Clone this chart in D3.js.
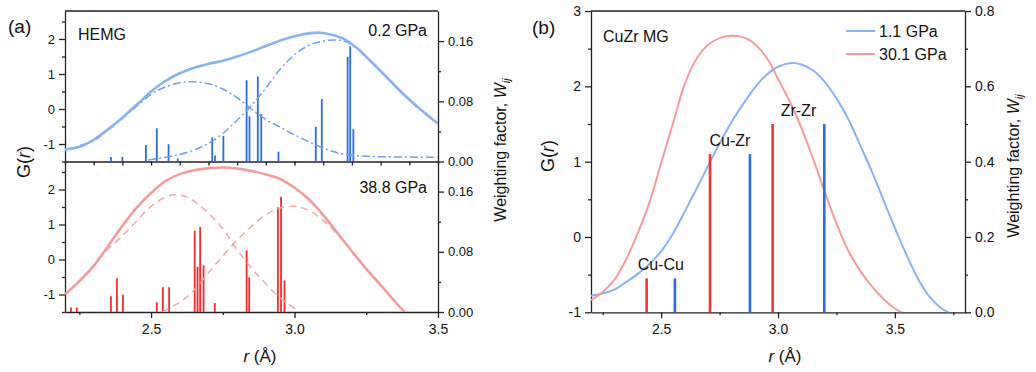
<!DOCTYPE html>
<html>
<head>
<meta charset="utf-8">
<script src="https://cdn.jsdelivr.net/npm/d3@7"></script>
<style>
  body { margin: 0; background: #fff; }
  svg { display: block; font-family: "Liberation Sans", Arial, sans-serif; }
  .axis path, .axis line { stroke: #222; stroke-width: 1.3; }
  .axis text { fill: #111; font-size: 14px; font-family: "Liberation Sans", Arial, sans-serif; }
  .label { fill: #111; }
</style>
</head>
<body>
<div id="chart"></div>
<script>
/////////////////////////////////////////////////////
/////////////////////// Data ////////////////////////
/////////////////////////////////////////////////////

// Panel (a), HEMG at 0.2 GPa : [r, G(r)]
const hemg_low_total = [[2.2,-1.16],[2.25,-1.08],[2.3,-0.88],[2.35,-0.58],[2.4,-0.25],[2.45,0.12],[2.5,0.5],[2.55,0.8],[2.6,1.02],[2.65,1.18],[2.7,1.29],[2.75,1.38],[2.8,1.5],[2.85,1.64],[2.9,1.8],[2.95,1.96],[3.0,2.08],[3.05,2.16],[3.09,2.18],[3.13,2.12],[3.18,1.97],[3.22,1.72],[3.27,1.33],[3.32,0.92],[3.37,0.5],[3.43,0.05],[3.5,-0.42]];
const hemg_low_peak1 = [[2.2,-1.17],[2.3,-0.9],[2.35,-0.6],[2.4,-0.27],[2.45,0.08],[2.5,0.42],[2.55,0.63],[2.6,0.75],[2.64,0.78],[2.7,0.72],[2.75,0.57],[2.8,0.32],[2.85,0.0],[2.9,-0.3],[2.95,-0.52],[3.0,-0.74],[3.06,-0.97],[3.12,-1.18],[3.18,-1.3],[3.25,-1.35],[3.35,-1.37],[3.5,-1.38]];
const hemg_low_peak2 = [[2.49,-1.46],[2.55,-1.38],[2.6,-1.3],[2.65,-1.17],[2.7,-0.98],[2.75,-0.7],[2.8,-0.32],[2.85,0.1],[2.9,0.6],[2.95,1.14],[3.0,1.55],[3.05,1.82],[3.1,1.94],[3.14,1.97],[3.18,1.92],[3.22,1.72],[3.27,1.33],[3.32,0.92],[3.37,0.5],[3.43,0.05],[3.5,-0.42]];
// weighting factors : [r, W]
const hemg_low_bars = [[2.36,0.006],[2.40,0.006],[2.482,0.022],[2.52,0.044],[2.561,0.023],[2.593,0.004],[2.713,0.032],[2.723,0.008],[2.752,0.034],[2.833,0.108],[2.843,0.06],[2.872,0.113],[2.884,0.063],[2.944,0.013],[3.074,0.046],[3.095,0.083],[3.185,0.139],[3.194,0.153],[3.205,0.043]];

// Panel (a), HEMG at 38.8 GPa
const hemg_high_total = [[2.2,-1.0],[2.25,-0.62],[2.3,-0.18],[2.35,0.38],[2.4,0.96],[2.45,1.48],[2.5,1.9],[2.55,2.24],[2.6,2.44],[2.65,2.55],[2.7,2.61],[2.75,2.63],[2.8,2.6],[2.85,2.53],[2.9,2.43],[2.95,2.3],[3.0,2.05],[3.05,1.72],[3.1,1.27],[3.15,0.75],[3.2,0.23],[3.25,-0.27],[3.3,-0.73],[3.35,-1.2],[3.39,-1.55]];
const hemg_high_peak1 = [[2.2,-1.0],[2.25,-0.62],[2.3,-0.18],[2.35,0.3],[2.4,0.68],[2.45,1.1],[2.5,1.52],[2.55,1.78],[2.58,1.85],[2.62,1.8],[2.66,1.6],[2.7,1.32],[2.75,0.88],[2.8,0.28],[2.85,-0.25],[2.88,-0.52],[2.95,-1.1],[3.02,-1.5]];
const hemg_high_peak2 = [[2.54,-1.5],[2.6,-1.22],[2.625,-1.07],[2.66,-0.78],[2.7,-0.38],[2.75,0.1],[2.8,0.55],[2.85,0.95],[2.9,1.28],[2.95,1.47],[3.0,1.52],[3.05,1.4],[3.1,1.11],[3.15,0.72],[3.2,0.24],[3.25,-0.27],[3.3,-0.73],[3.35,-1.2],[3.39,-1.55]];
const hemg_high_bars = [[2.221,0.006],[2.241,0.006],[2.36,0.021],[2.381,0.045],[2.402,0.023],[2.52,0.013],[2.541,0.033],[2.563,0.033],[2.652,0.108],[2.662,0.06],[2.671,0.113],[2.683,0.062],[2.722,0.012],[2.833,0.082],[2.842,0.046],[2.942,0.139],[2.953,0.153],[2.965,0.042]];

// Panel (b), CuZr MG
const cuzr_low  = [[2.2,-0.78],[2.25,-0.75],[2.3,-0.7],[2.35,-0.6],[2.4,-0.49],[2.45,-0.36],[2.5,-0.19],[2.55,0.04],[2.6,0.33],[2.65,0.63],[2.7,0.94],[2.75,1.24],[2.8,1.52],[2.85,1.76],[2.9,1.98],[2.95,2.15],[3.0,2.26],[3.06,2.31],[3.1,2.29],[3.15,2.21],[3.2,2.06],[3.25,1.84],[3.3,1.57],[3.35,1.23],[3.4,0.88],[3.45,0.5],[3.5,0.12],[3.55,-0.24],[3.6,-0.56],[3.65,-0.8],[3.7,-0.95],[3.73,-1.0]];
const cuzr_high = [[2.2,-0.84],[2.25,-0.73],[2.3,-0.57],[2.35,-0.3],[2.4,0.05],[2.45,0.46],[2.5,0.98],[2.55,1.5],[2.6,2.02],[2.65,2.36],[2.7,2.55],[2.75,2.64],[2.8,2.67],[2.84,2.66],[2.88,2.61],[2.92,2.5],[2.96,2.34],[3.0,2.1],[3.05,1.8],[3.1,1.45],[3.15,1.04],[3.2,0.6],[3.25,0.18],[3.3,-0.18],[3.35,-0.44],[3.4,-0.65],[3.45,-0.82],[3.5,-0.95],[3.53,-1.0]];
const pair_names     = ["Cu-Cu", "Cu-Zr", "Zr-Zr"];
const pair_weights   = [0.09, 0.42, 0.5];
const pair_r_low     = [2.559, 2.880, 3.198];
const pair_r_high    = [2.438, 2.709, 2.977];
const legend_labels  = ["1.1 GPa", "30.1 GPa"];

// Tick labels
const r_ticks       = [2.5, 3.0, 3.5];
const r_minor_a     = d3.range(22, 36).map(d => d / 10);
const r_minor_a_bot = [2.25, 2.75, 3.25];
const g_ticks_a     = [-1, 0, 1, 2];
const g_minor_a     = [-1.5, -0.5, 0.5, 1.5, 2.5];
const w_ticks_a     = [0, 0.08, 0.16];
const w_minor_a     = [0.04, 0.12];
const r_minor_b     = [2.25, 2.75, 3.25, 3.75];
const g_ticks_b     = [-1, 0, 1, 2, 3];
const g_minor_b     = [-0.5, 0.5, 1.5, 2.5];
const w_ticks_b     = [0, 0.2, 0.4, 0.6, 0.8];
const w_minor_b     = [0.1, 0.3, 0.5, 0.7];

/////////////////////////////////////////////////////
///////////////////// Constants /////////////////////
/////////////////////////////////////////////////////

const width  = 1036;
const height = 372;

const blue_curve = '#8ab2ee';
const blue_fit   = '#6f9fe9';
const blue_bar   = '#2a6ddc';
const red_curve  = '#f39c9c';
const red_fit    = '#f4a6a6';
const red_bar    = '#f52a2a';
const axis_color = '#222';

// panel boxes
const pa = { left: 65, right: 438, top: 11, mid: 161.5, bottom: 312 };
const pb = { left: 591, right: 965, top: 11, bottom: 312.3 };

const svg = d3.select("#chart").append("svg")
  .attr("width", width)
  .attr("height", height);

const defs = svg.append("defs");
const addClip = (id, x0, y0, x1, y1) => defs.append("clipPath").attr("id", id)
  .append("rect").attr("x", x0).attr("y", y0).attr("width", x1 - x0).attr("height", y1 - y0);

addClip("clip_top", pa.left, pa.top, pa.right, pa.mid);
addClip("clip_bot", pa.left, pa.mid, pa.right, pa.bottom);
addClip("clip_b", pb.left, pb.top, pb.right, pb.bottom);

/////////////////////////////////////////////////////
///////////////////// Scales ////////////////////////
/////////////////////////////////////////////////////

const x_a     = d3.scaleLinear().domain([2.2, 3.5]).range([pa.left, pa.right]);
const g_top   = d3.scaleLinear().domain([-1.5, 2.8]).range([pa.mid, pa.top]);
const w_top   = d3.scaleLinear().domain([0, 0.2]).range([pa.mid, pa.top]);
const g_bot   = d3.scaleLinear().domain([-1.5, 2.8]).range([pa.bottom, pa.mid]);
const w_bot   = d3.scaleLinear().domain([0, 0.2]).range([pa.bottom, pa.mid]);
const x_b     = d3.scaleLinear().domain([2.2, 3.8]).range([pb.left, pb.right]);
const g_b     = d3.scaleLinear().domain([-1, 3]).range([pb.bottom, pb.top]);
const w_b     = d3.scaleLinear().domain([0, 0.8]).range([pb.bottom, pb.top]);

/////////////////////////////////////////////////////
///////////////////// Axes //////////////////////////
/////////////////////////////////////////////////////

// draws a major axis (with labels) and a minor axis (without)
function drawAxis(axisFn, scale, pos, major, minor, fmt, fontSize, minorSize) {
  const g = svg.append("g").attr("class", "axis").attr("transform", pos);
  g.call(axisFn(scale).tickValues(major).tickFormat(fmt).tickSize(6).tickPadding(4).tickSizeOuter(0));
  g.selectAll("text").style("font-size", fontSize + "px");
  const m = svg.append("g").attr("class", "axis").attr("transform", pos);
  m.call(axisFn(scale).tickValues(minor).tickFormat("").tickSize(minorSize || 3).tickSizeOuter(0));
  m.select(".domain").remove();
  return g;
}

const fmt_int = d => String(d);
const fmt_1   = d3.format(".1f");
const fmt_2   = d3.format(".2f");

// top panel
drawAxis(d3.axisLeft, g_top, `translate(${pa.left},0)`, g_ticks_a, g_minor_a, fmt_int, 13);
drawAxis(d3.axisRight, w_top, `translate(${pa.right},0)`, w_ticks_a, w_minor_a, fmt_2, 13);
drawAxis(d3.axisBottom, x_a, `translate(0,${pa.mid})`, [], r_minor_a, "", 13, 4);

// bottom panel
drawAxis(d3.axisLeft, g_bot, `translate(${pa.left},0)`, g_ticks_a, g_minor_a, fmt_int, 13);
drawAxis(d3.axisRight, w_bot, `translate(${pa.right},0)`, w_ticks_a, w_minor_a, fmt_2, 13);
drawAxis(d3.axisBottom, x_a, `translate(0,${pa.bottom})`, r_ticks, r_minor_a_bot, fmt_1, 14)
  .selectAll("text").attr("y", 12);

// panel (b)
drawAxis(d3.axisLeft, g_b, `translate(${pb.left},0)`, g_ticks_b, g_minor_b, fmt_int, 14);
drawAxis(d3.axisRight, w_b, `translate(${pb.right},0)`, w_ticks_b, w_minor_b, fmt_1, 14);
drawAxis(d3.axisBottom, x_b, `translate(0,${pb.bottom})`, r_ticks, r_minor_b, fmt_1, 14)
  .selectAll("text").attr("y", 12);

// top borders
svg.append("line").attr("x1", pa.left).attr("x2", pa.right).attr("y1", pa.top).attr("y2", pa.top)
  .attr("stroke", axis_color).attr("stroke-width", 1.3);
svg.append("line").attr("x1", pb.left).attr("x2", pb.right).attr("y1", pb.top).attr("y2", pb.top)
  .attr("stroke", axis_color).attr("stroke-width", 1.3);

/////////////////////////////////////////////////////
///////////////////// Marks /////////////////////////
/////////////////////////////////////////////////////

function drawCurve(data, x, y, clip, color, widthPx, dash) {
  svg.append("path")
    .datum(data)
    .attr("clip-path", `url(#${clip})`)
    .attr("fill", "none")
    .attr("stroke", color)
    .attr("stroke-width", widthPx)
    .attr("stroke-dasharray", dash || null)
    .attr("d", d3.line().x(d => x(d[0])).y(d => y(d[1])).curve(d3.curveCatmullRom.alpha(0.5)));
}

function drawBars(data, x, w, color, widthPx) {
  svg.append("g").selectAll("line")
    .data(data)
    .enter().append("line")
    .attr("x1", d => x(d[0])).attr("x2", d => x(d[0]))
    .attr("y1", w(0)).attr("y2", d => w(d[1]))
    .attr("stroke", color)
    .attr("stroke-width", widthPx);
}

// top panel (0.2 GPa)
drawBars(hemg_low_bars, x_a, w_top, blue_bar, 1.8);
drawCurve(hemg_low_peak1, x_a, g_top, "clip_top", blue_fit, 1.5, "8,3,2,3");
drawCurve(hemg_low_peak2, x_a, g_top, "clip_top", blue_fit, 1.5, "8,3,2,3");
drawCurve(hemg_low_total, x_a, g_top, "clip_top", blue_curve, 2.6);

// bottom panel (38.8 GPa)
drawBars(hemg_high_bars, x_a, w_bot, red_bar, 1.8);
drawCurve(hemg_high_peak1, x_a, g_bot, "clip_bot", red_fit, 1.5, "7,5");
drawCurve(hemg_high_peak2, x_a, g_bot, "clip_bot", red_fit, 1.5, "7,5");
drawCurve(hemg_high_total, x_a, g_bot, "clip_bot", red_curve, 2.6);

// panel (b)
drawCurve(cuzr_low, x_b, g_b, "clip_b", blue_curve, 2);
drawCurve(cuzr_high, x_b, g_b, "clip_b", red_curve, 2);
drawBars(pair_r_high.map((r, i) => [r, pair_weights[i]]), x_b, w_b, '#f03434', 2.6);
drawBars(pair_r_low.map((r, i) => [r, pair_weights[i]]), x_b, w_b, '#2a6ddc', 2.6);

// pair labels, centred above each pair of sticks
svg.append("g").selectAll("text")
  .data(pair_names)
  .enter().append("text")
  .attr("class", "label")
  .attr("x", (d, i) => (x_b(pair_r_low[i]) + x_b(pair_r_high[i])) / 2)
  .attr("y", (d, i) => w_b(pair_weights[i]) - 8)
  .attr("text-anchor", "middle")
  .style("font-size", "16px")
  .text(d => d);

/////////////////////////////////////////////////////
///////////////////// Texts /////////////////////////
/////////////////////////////////////////////////////

const addText = (x, y, txt, size, anchor) => svg.append("text")
  .attr("class", "label").attr("x", x).attr("y", y)
  .attr("text-anchor", anchor || "start")
  .style("font-size", size + "px")
  .text(txt);

addText(8, 33, "(a)", 19);
addText(78, 40, "HEMG", 16);
addText(427, 36, "0.2 GPa", 16, "end");
addText(427, 193, "38.8 GPa", 16, "end");
addText(532, 34, "(b)", 19);
addText(603, 42, "CuZr MG", 16);

// G(r) labels
function gLabel(x, y) {
  const t = svg.append("text").attr("class", "label")
    .attr("transform", `translate(${x},${y}) rotate(-90)`)
    .attr("text-anchor", "middle").style("font-size", "18px");
  t.append("tspan").text("G(");
  t.append("tspan").style("font-style", "italic").text("r");
  t.append("tspan").text(")");
}
gLabel(30, 162);
gLabel(554, 156);

// r axis labels
function rLabel(x, y) {
  const t = svg.append("text").attr("class", "label")
    .attr("x", x).attr("y", y)
    .attr("text-anchor", "middle").style("font-size", "17px");
  t.append("tspan").style("font-style", "italic").text("r");
  t.append("tspan").text(" (Å)");
}
rLabel(260, 362);
rLabel(785, 362);

// weighting factor labels
function wLabel(x, y) {
  const t = svg.append("text").attr("class", "label")
    .attr("transform", `translate(${x},${y}) rotate(-90)`)
    .attr("text-anchor", "middle").style("font-size", "16px");
  t.append("tspan").text("Weighting factor, ");
  t.append("tspan").style("font-style", "italic").text("W");
  t.append("tspan").style("font-style", "italic").style("font-size", "11px").attr("dy", 4).text("ij");
}
wLabel(506, 150);
wLabel(1019, 166);

// legend
const legend = svg.append("g").selectAll("g")
  .data(legend_labels)
  .enter().append("g")
  .attr("transform", (d, i) => `translate(846,${31 + i * 23})`);
legend.append("line").attr("x1", 0).attr("x2", 29)
  .attr("stroke", (d, i) => i === 0 ? blue_curve : red_curve).attr("stroke-width", 2);
legend.append("text").attr("class", "label").attr("x", 33).attr("y", 6)
  .style("font-size", "16px").text(d => d);
</script>
</body>
</html>
